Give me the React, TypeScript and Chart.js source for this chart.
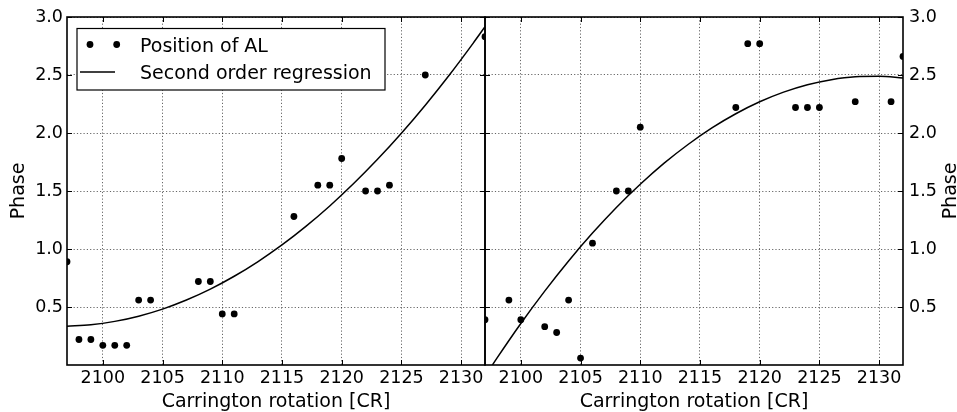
import React, { useEffect, useRef } from 'react';
import { Chart, registerables } from 'chart.js';

Chart.register(...registerables);

// ---- data ----
const xTicks = [2100, 2105, 2110, 2115, 2120, 2125, 2130];
const yTicks = [0.5, 1.0, 1.5, 2.0, 2.5, 3.0];

const leftX = [2097, 2098, 2099, 2100, 2101, 2102, 2103, 2104, 2108, 2109, 2110, 2111, 2116, 2118, 2119, 2120, 2122, 2123, 2124, 2127, 2132];
const leftY = [0.89, 0.22, 0.22, 0.17, 0.17, 0.17, 0.56, 0.56, 0.72, 0.72, 0.44, 0.44, 1.28, 1.55, 1.55, 1.78, 1.5, 1.5, 1.55, 2.5, 2.83];

const leftFitX = [2097, 2099, 2101, 2103, 2105, 2107, 2109, 2111, 2113, 2115, 2117, 2119, 2121, 2123, 2125, 2127, 2129, 2131, 2132];
const leftFitY = [0.335, 0.347, 0.376, 0.421, 0.482, 0.56, 0.654, 0.765, 0.892, 1.035, 1.195, 1.371, 1.564, 1.773, 1.998, 2.24, 2.498, 2.773, 2.916];

const rightX = [2097, 2099, 2100, 2102, 2103, 2104, 2105, 2106, 2108, 2109, 2110, 2118, 2119, 2120, 2123, 2124, 2125, 2128, 2131, 2132];
const rightY = [0.39, 0.56, 0.39, 0.33, 0.28, 0.56, 0.06, 1.05, 1.5, 1.5, 2.05, 2.22, 2.77, 2.77, 2.22, 2.22, 2.22, 2.27, 2.27, 2.66];

const rightFitX = [2097, 2098, 2100, 2102, 2104, 2106, 2108, 2110, 2112, 2114, 2116, 2118, 2120, 2122, 2124, 2126, 2128, 2130, 2132];
const rightFitY = [-0.098, 0.059, 0.358, 0.637, 0.897, 1.137, 1.358, 1.558, 1.74, 1.901, 2.044, 2.166, 2.269, 2.352, 2.416, 2.46, 2.485, 2.489, 2.475];

const seriesLabels = ['Position of AL', 'Second order regression'];
const xTitle = 'Carrington rotation [CR]';
const yTitle = 'Phase';
const xMin = 2097;
const xMax = 2132;
const yMin = 0;
const yMax = 3;

// ---- styling ----
const FAMILY = "'DejaVu Sans', sans-serif";
const TICK_FONT = { family: FAMILY, size: 17.5, lineHeight: 1.2 };
const TITLE_FONT = { family: FAMILY, size: 19, lineHeight: 1 };
const GRID_COLOR = 'rgba(0,0,0,0.6)';
const GRID_DASH = [1.2, 2.1];
const POINT_R = 3.4;

const toXY = (xs: number[], ys: number[]) => xs.map((x, i) => ({ x, y: ys[i] }));

function makeDatasets(px: number[], py: number[], fx: number[], fy: number[]) {
  return [
    {
      label: seriesLabels[0],
      data: toXY(px, py),
      showLine: false,
      pointRadius: POINT_R,
      pointHoverRadius: POINT_R,
      pointBackgroundColor: '#000',
      pointBorderWidth: 0,
      borderColor: '#000',
      backgroundColor: '#000',
      clip: 0,
    },
    {
      label: seriesLabels[1],
      data: toXY(fx, fy),
      showLine: true,
      pointRadius: 0,
      borderColor: '#000',
      borderWidth: 1.5,
      cubicInterpolationMode: 'monotone',
      fill: false,
      clip: 0,
    },
  ];
}

function framePlugin(extra: (ctx: CanvasRenderingContext2D, a: any) => void) {
  return {
    id: 'frame',
    afterDraw(chart: any) {
      const { ctx, chartArea: a, scales } = chart;
      const xs = scales.x;
      const ys = scales.y;
      ctx.save();
      ctx.strokeStyle = '#000';
      ctx.lineWidth = 1;
      ctx.setLineDash([]);
      ctx.beginPath();
      xTicks.forEach((v) => {
        const p = Math.round(xs.getPixelForValue(v)) + 0.5;
        ctx.moveTo(p, a.bottom);
        ctx.lineTo(p, a.bottom - 5);
        ctx.moveTo(p, a.top);
        ctx.lineTo(p, a.top + 5);
      });
      yTicks.forEach((v) => {
        const p = Math.round(ys.getPixelForValue(v)) + 0.5;
        ctx.moveTo(a.left, p);
        ctx.lineTo(a.left + 5, p);
        ctx.moveTo(a.right, p);
        ctx.lineTo(a.right - 5, p);
      });
      ctx.stroke();
      ctx.lineWidth = 1.6;
      ctx.strokeRect(a.left, a.top, a.right - a.left, a.bottom - a.top);
      extra(ctx, a);
      ctx.restore();
    },
  };
}

function makeConfig(side: 'left' | 'right', datasets: any[], plugin: any, padding: any, yWidth: number) {
  return {
    type: 'scatter',
    data: { datasets },
    plugins: [plugin],
    options: {
      animation: false,
      responsive: false,
      devicePixelRatio: 1,
      layout: { padding },
      plugins: { legend: { display: false }, tooltip: { enabled: false } },
      events: [],
      scales: {
        x: {
          type: 'linear',
          position: 'bottom',
          min: xMin,
          max: xMax,
          afterBuildTicks: (s: any) => {
            s.ticks = xTicks.map((v) => ({ value: v }));
          },
          afterFit: (s: any) => {
            s.height = 47;
          },
          ticks: {
            color: '#000',
            font: TICK_FONT,
            padding: 3,
            maxRotation: 0,
            autoSkip: false,
            callback: (v: any) => String(v),
          },
          grid: { drawTicks: false, color: GRID_COLOR, lineWidth: 1 },
          border: { display: false, dash: GRID_DASH },
          title: { display: true, text: xTitle, color: '#000', font: TITLE_FONT, padding: 0 },
        },
        y: {
          type: 'linear',
          position: side,
          min: yMin,
          max: yMax,
          afterBuildTicks: (s: any) => {
            s.ticks = yTicks.map((v) => ({ value: v }));
          },
          afterFit: (s: any) => {
            s.width = yWidth;
          },
          ticks: {
            color: '#000',
            font: TICK_FONT,
            padding: side === 'left' ? 4 : 6,
            autoSkip: false,
            callback: (v: any) => Number(v).toFixed(1),
          },
          grid: { drawTicks: false, color: GRID_COLOR, lineWidth: 1 },
          border: { display: false, dash: GRID_DASH },
          title: {
            display: side === 'left',
            text: yTitle,
            color: '#000',
            font: TITLE_FONT,
            padding: { top: 10, bottom: 0 },
          },
        },
      },
    },
  };
}

// canvas geometry: left panel plot 67..485, right panel plot 485..903, both 17..365
const LEFT_W = 500;
const RIGHT_LEFT = 465;
const RIGHT_W = 957 - RIGHT_LEFT;

export default function App() {
  const leftRef = useRef<HTMLCanvasElement | null>(null);
  const rightRef = useRef<HTMLCanvasElement | null>(null);

  useEffect(() => {
    const legend = framePlugin((ctx) => {
      ctx.setLineDash([]);
      ctx.fillStyle = '#fff';
      ctx.fillRect(77, 28.5, 308, 61.5);
      ctx.strokeStyle = '#000';
      ctx.lineWidth = 1.2;
      ctx.strokeRect(77, 28.5, 308, 61.5);
      ctx.fillStyle = '#000';
      [90, 116.7].forEach((cx) => {
        ctx.beginPath();
        ctx.arc(cx, 44.5, POINT_R, 0, Math.PI * 2);
        ctx.fill();
      });
      ctx.lineWidth = 1.5;
      ctx.beginPath();
      ctx.moveTo(80, 72);
      ctx.lineTo(115, 72);
      ctx.stroke();
      ctx.font = `19px ${FAMILY}`;
      ctx.textAlign = 'left';
      ctx.textBaseline = 'alphabetic';
      ctx.fillText(seriesLabels[0], 140, 51.7);
      ctx.fillText(seriesLabels[1], 140, 79.3);
    });

    const rightTitle = framePlugin((ctx, a) => {
      ctx.fillStyle = '#000';
      ctx.font = `19px ${FAMILY}`;
      ctx.textAlign = 'center';
      ctx.textBaseline = 'middle';
      ctx.translate(950.8 - RIGHT_LEFT, (a.top + a.bottom) / 2);
      ctx.rotate(-Math.PI / 2);
      ctx.fillText(yTitle, 0, 0);
    });

    const c1 = new Chart(
      leftRef.current as HTMLCanvasElement,
      makeConfig('left', makeDatasets(leftX, leftY, leftFitX, leftFitY), legend, { left: 0, right: LEFT_W - 485, top: 17, bottom: 0 }, 67) as any
    );
    const c2 = new Chart(
      rightRef.current as HTMLCanvasElement,
      makeConfig('right', makeDatasets(rightX, rightY, rightFitX, rightFitY), rightTitle, { left: 485 - RIGHT_LEFT, right: 0, top: 17, bottom: 0 }, 957 - 903) as any
    );
    return () => {
      c1.destroy();
      c2.destroy();
    };
  }, []);

  return (
    <div style={{ position: 'fixed', left: 0, top: 0, width: 957, height: 412, background: '#fff', overflow: 'hidden' }}>
      <canvas ref={leftRef} width={LEFT_W} height={412} style={{ position: 'absolute', left: 0, top: 0, width: LEFT_W, height: 412 }} />
      <canvas ref={rightRef} width={RIGHT_W} height={412} style={{ position: 'absolute', left: RIGHT_LEFT, top: 0, width: RIGHT_W, height: 412 }} />
    </div>
  );
}
